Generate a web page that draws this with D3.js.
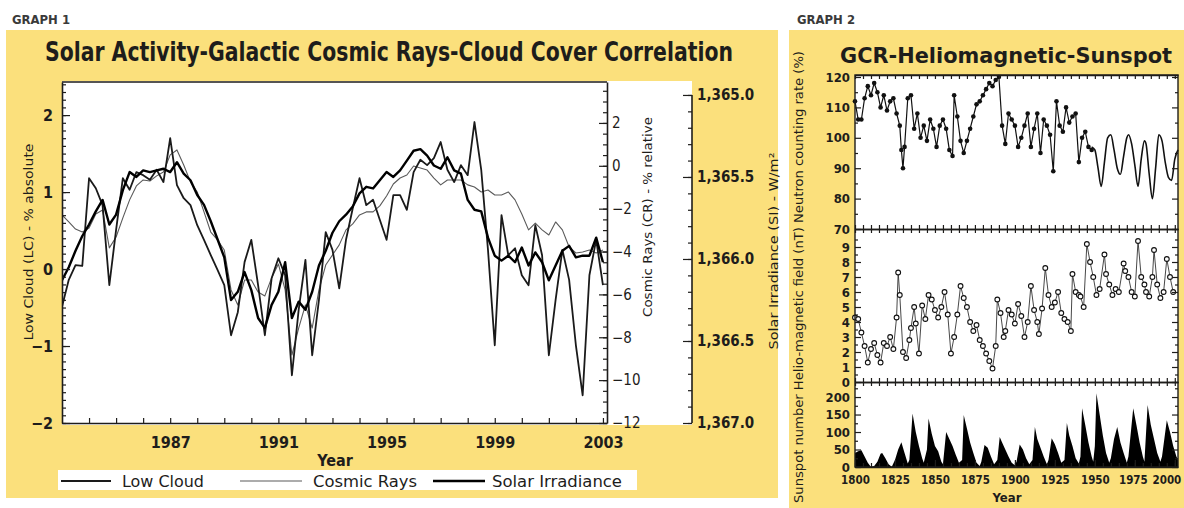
<!DOCTYPE html>
<html>
<head>
<meta charset="utf-8">
<script src="https://cdn.jsdelivr.net/npm/d3@7"></script>
<style>
html, body { margin: 0; padding: 0; background: #fff; }
svg { display: block; }
</style>
</head>
<body>
<svg id="chart" width="1184" height="508"></svg>
<script>
// ---------------- Graph 1: quarterly series, first sample at 1983.0 ----------------
const g1StartYear = 1983.0;
const g1Step = 0.25;
const lowCloud = [
  -0.49,-0.14,0.05,0.04,1.18,1.05,0.83,-0.21,0.51,1.18,
  1.03,1.26,1.22,1.16,1.29,1.13,1.70,1.09,0.92,0.83,
  0.57,0.38,0.18,-0.01,-0.21,-0.86,-0.56,0.09,0.38,-0.21,
  -0.86,-0.12,0.14,-0.08,-1.38,-0.53,0.12,-1.12,-0.40,0.48,
  0.25,-0.25,0.38,0.79,1.18,0.83,0.90,0.64,0.38,0.96,
  0.96,0.77,1.26,1.42,1.35,1.44,1.65,1.29,1.13,1.35,
  1.22,1.91,1.29,0.25,-0.99,0.70,0.18,0.27,-0.08,-0.21,
  0.57,0.18,-1.12,-0.40,0.25,-0.14,-0.99,-1.64,-0.08,0.38,
  -0.21
];
const cosmicRays = [
  -2.29,-2.62,-2.95,-3.09,-2.90,-2.25,-2.06,-3.83,-3.32,-2.43,
  -1.59,-0.94,-0.66,-0.71,-0.47,-0.29,0.51,0.74,0.04,-0.75,
  -1.22,-2.15,-3.09,-3.46,-3.93,-5.79,-6.49,-5.33,-5.33,-5.89,
  -6.07,-5.23,-4.58,-5.79,-8.83,-7.57,-6.49,-7.57,-5.79,-4.63,
  -4.16,-3.69,-2.99,-2.71,-2.29,-2.15,-2.15,-1.87,-1.41,-0.85,
  -0.57,-0.43,-0.01,-0.10,-0.20,-0.57,-0.89,-0.66,-0.66,-0.66,
  -0.89,-0.99,-1.22,-1.13,-1.36,-1.36,-1.22,-1.59,-2.25,-2.99,
  -2.67,-2.99,-3.23,-2.62,-2.99,-3.79,-4.07,-4.02,-3.93,-4.07,
  -3.93
];
const solarIrradiance = [
  1366.13,1366.05,1365.95,1365.86,1365.79,1365.71,1365.64,1365.79,1365.73,1365.58,
  1365.47,1365.50,1365.46,1365.47,1365.46,1365.45,1365.47,1365.41,1365.48,1365.52,
  1365.61,1365.67,1365.77,1365.88,1365.99,1366.25,1366.20,1366.08,1366.19,1366.36,
  1366.42,1366.28,1366.20,1366.02,1366.36,1366.26,1366.31,1366.20,1366.04,1365.95,
  1365.84,1365.77,1365.73,1365.68,1365.60,1365.56,1365.57,1365.52,1365.47,1365.50,
  1365.46,1365.40,1365.34,1365.33,1365.37,1365.43,1365.45,1365.38,1365.46,1365.48,
  1365.64,1365.70,1365.71,1365.87,1365.98,1366.01,1365.98,1366.02,1365.93,1366.04,
  1365.96,1366.02,1366.13,1366.04,1365.95,1365.92,1365.99,1365.98,1365.98,1365.87,
  1366.02
];
const g1YearLabels = [1987, 1991, 1995, 1999, 2003];
const lcTicks = [-2, -1, 0, 1, 2];
const crTicks = [-12, -10, -8, -6, -4, -2, 0, 2];
const siTicks = [1365.0, 1365.5, 1366.0, 1366.5, 1367.0];
const legendLabels = ["Low Cloud", "Cosmic Rays", "Solar Irradiance"];

// ---------------- Graph 2 ----------------
const neutronYears = [1800,1802,1804,1806,1808,1810,1812,1814,1816,1818,1820,1822,1824,1826,1828,1829,1830,1831,
  1833,1835,1837,1839,1841,1843,1845,1847,1849,1851,1853,1855,1857,1859,1861,1862,
  1864,1866,1868,1870,1872,1874,1876,1878,1880,1882,1884,1886,1888,1890,1892,1894,1896,1898,1900,1902,1904,1906,
  1908,1910,1912,1914,1916,1918,1920,1922,1924,1926,1928,1930,1932,1934,1936,1938,1940,1942,1944,1946,1948];
const neutronRate = [112,106,106,113,117,114,118,115,110,114,109,112,113,108,104,96,90,97,
  113,114,103,108,100,104,99,106,103,97,104,106,103,96,94,114,
  107,99,95,99,103,107,111,112,114,116,118,117,119,120,104,98,108,106,104,97,100,104,
  108,97,103,108,95,106,104,101,89,112,104,102,110,105,107,108,92,100,102,97,96];
const monitorYears = [1948,1950,1952,1954,1956,1958,1960,1962,1964,1966,1968,1970,1971,1973,1975,1977,1979,1981,
  1982,1984,1986,1988,1990,1992,1994,1996,1998,2000,2002];
const monitorRate = [97,96,90,84,92,100,101,96,90,88,94,100,101,98,91,84,93,99,
  98,88,80,90,101,99,92,87,86,93,96];
const fieldYears = [1800,1802,1804,1806,1808,1810,1812,1814,1816,1818,1820,1822,1824,1826,1827,1828,1830,1832,1834,1835,
  1837,1838,1840,1842,1844,1846,1848,1850,1852,1854,1856,1858,1860,1862,1864,1866,1868,1870,1872,1874,
  1876,1878,1880,1882,1884,1886,1888,1889,1891,1893,1894,1896,1898,1900,1902,1904,1906,1908,1910,1912,
  1914,1915,1917,1919,1921,1923,1925,1927,1929,1931,1933,1935,1936,1938,1940,1941,1943,1945,1947,1949,
  1951,1953,1956,1957,1959,1961,1963,1965,1968,1969,1971,1973,1975,1977,1979,1981,1982,1984,1986,1987,
  1989,1991,1993,1995,1997,1999];
const fieldValues = [4.3,4.2,3.3,2.4,1.3,2.2,2.6,1.8,1.3,2.6,2.4,3.0,2.2,4.3,7.3,5.8,2.0,1.6,2.8,3.6,
  5.0,3.9,1.9,5.1,4.2,5.8,5.5,4.8,4.3,5.0,6.0,4.5,1.9,3.0,4.5,6.4,5.6,5.0,4.0,3.4,
  3.8,2.8,2.4,1.9,1.4,0.9,2.4,5.5,4.6,3.0,3.4,4.8,4.5,3.9,5.2,4.4,3.0,4.0,6.4,4.8,
  4.0,3.2,4.9,7.6,5.8,5.0,5.3,6.0,4.6,4.2,4.0,3.4,7.2,6.0,5.8,5.7,5.0,9.2,8.0,7.0,
  5.8,6.2,8.5,7.2,6.5,5.8,6.2,6.0,7.9,7.4,7.0,6.0,5.7,9.4,7.0,6.5,6.0,5.7,7.0,8.8,
  6.5,5.6,6.0,8.2,7.0,6.0];
const sunspotYears = [1800,1802,1804,1806,1808,1810,1812,1814,1816,1817,1819,1821,1823,1825,1827,1829,1831,1833,1834,1836,
  1838,1840,1842,1843,1845,1846,1848,1850,1852,1854,1855,1857,1859,1861,1863,1865,1867,1868,1870,1872,
  1874,1876,1878,1879,1881,1883,1885,1887,1889,1890.5,1892,1894,1896,1898,1900,1901,1903,1905,1907,1909,
  1911,1912.5,1914,1916,1918,1920,1921,1923,1925,1927,1929,1931,1932.5,1934,1936,1938,1940,1941,1942,1944,
  1946,1948,1949,1950,1951,1953,1955,1957,1959,1960,1962,1964,1966,1968,1970,1971,1974,1976,1978,1980,
  1981,1983,1985,1987,1989,1991,1992,1995,1997,1999,2001,2002];
const sunspotValues = [40,45,48,30,12,0,3,15,38,40,25,8,1,20,50,71,40,10,20,153,
  100,60,25,12,50,139,95,60,45,15,8,100,80,60,35,12,20,149,110,70,
  40,12,3,15,63,55,30,8,20,86,70,50,30,12,5,15,64,50,25,8,
  20,114,80,55,30,8,20,82,65,40,12,20,126,90,60,25,10,30,168,120,
  70,30,15,60,211,150,90,40,12,25,80,114,70,40,12,30,168,120,70,30,
  15,177,120,80,40,15,30,134,100,60,30,20];
const g2YearTicks = [1800,1825,1850,1875,1900,1925,1950,1975,2000];
const neutronTicks = [70,80,90,100,110,120];
const fieldTicks = [0,1,2,3,4,5,6,7,8,9];
const sunspotTicks = [0,50,100,150,200];

// ---------------- drawing ----------------
const W = 1184, H = 508;
const FONT = "'DejaVu Sans Condensed','Liberation Sans Narrow',Arial,sans-serif";
const INK = "#1e1d1b";
const PANEL = "#fbe07c";
const svg = d3.select("#chart");

svg.append("rect").attr("width", W).attr("height", H).attr("fill", "#fff");

function label(x, y, str, opts = {}) {
  const t = svg.append("text")
    .attr("x", x).attr("y", y)
    .attr("font-family", FONT)
    .attr("font-size", opts.size || 14)
    .attr("font-weight", opts.weight || "bold")
    .attr("fill", opts.fill || INK)
    .attr("text-anchor", opts.anchor || "start")
    .text(str);
  if (opts.len) t.attr("textLength", opts.len).attr("lengthAdjust", "spacingAndGlyphs");
  return t;
}
function vlabel(x, y, str, opts = {}) {
  const t = svg.append("text")
    .attr("transform", `translate(${x},${y}) rotate(-90)`)
    .attr("font-family", FONT)
    .attr("font-size", opts.size || 13)
    .attr("font-weight", opts.weight || "normal")
    .attr("fill", INK)
    .attr("text-anchor", "middle")
    .attr("dominant-baseline", "central")
    .text(str);
  if (opts.len) t.attr("textLength", opts.len).attr("lengthAdjust", "spacingAndGlyphs");
  return t;
}
function styleAxis(g, size, weight, keepDomain) {
  g.attr("font-family", FONT).attr("font-size", size).attr("font-weight", weight);
  g.selectAll("path.domain").attr("stroke", keepDomain ? INK : "none").attr("stroke-width", 1.6);
  g.selectAll(".tick line").attr("stroke", INK).attr("stroke-width", 1.2);
  g.selectAll(".tick text").attr("fill", INK);
  return g;
}

// Yellow panels
svg.append("rect").attr("x", 6).attr("y", 30).attr("width", 772).attr("height", 468).attr("fill", PANEL);
svg.append("rect").attr("x", 789).attr("y", 30).attr("width", 395).attr("height", 478).attr("fill", PANEL);

label(12, 24, "GRAPH 1", { size: 12, fill: "#3a3a3a", len: 58 });
label(797, 24, "GRAPH 2", { size: 12, fill: "#3a3a3a", len: 58 });

// ===== Graph 1 =====
const p1 = { left: 62, right: 607, top: 82, bottom: 423 };
label(389, 61, "Solar Activity-Galactic Cosmic Rays-Cloud Cover Correlation",
  { size: 26, anchor: "middle", len: 688 });

svg.append("rect").attr("x", p1.left).attr("y", p1.top - 1)
  .attr("width", 692 - p1.left).attr("height", 425 - p1.top + 1).attr("fill", "#fff");

const x1 = d3.scaleLinear().domain([1983.0, 2003.15]).range([p1.left, p1.right]);
const yLC = d3.scaleLinear().domain([-2, 2.43]).range([p1.bottom, p1.top]);
const yCR = d3.scaleLinear().domain([-12, 3.91]).range([p1.bottom, p1.top]);
const ySI = d3.scaleLinear().domain([1364.921, 1367.0]).range([p1.top, p1.bottom]);

const g1 = svg.append("g");
g1.append("clipPath").attr("id", "clip1").append("rect")
  .attr("x", p1.left).attr("y", p1.top).attr("width", p1.right - p1.left).attr("height", p1.bottom - p1.top);

const yearOf = i => g1StartYear + i * g1Step;
const seriesLine = (scale) => d3.line().x((d, i) => x1(yearOf(i))).y(d => scale(d));
const plot1 = g1.append("g").attr("clip-path", "url(#clip1)");
plot1.append("path").datum(cosmicRays).attr("d", seriesLine(yCR))
  .attr("fill", "none").attr("stroke", "#5a5a5a").attr("stroke-width", 1.1).attr("stroke-linejoin", "round");
plot1.append("path").datum(lowCloud).attr("d", seriesLine(yLC))
  .attr("fill", "none").attr("stroke", "#1a1a1a").attr("stroke-width", 1.8).attr("stroke-linejoin", "round");
plot1.append("path").datum(solarIrradiance).attr("d", seriesLine(ySI))
  .attr("fill", "none").attr("stroke", "#000").attr("stroke-width", 2.4).attr("stroke-linejoin", "round");

// frame top
g1.append("line").attr("x1", p1.left).attr("x2", p1.right).attr("y1", p1.top).attr("y2", p1.top)
  .attr("stroke", INK).attr("stroke-width", 1.6);

// x axis
styleAxis(g1.append("g").attr("transform", `translate(0,${p1.bottom})`)
  .call(d3.axisBottom(x1).tickValues(d3.range(1984, 2004)).tickSizeInner(-5).tickSizeOuter(0).tickFormat("")), 14, "bold", true);
styleAxis(g1.append("g").attr("transform", `translate(0,${p1.bottom})`)
  .call(d3.axisBottom(x1).tickValues(g1YearLabels).tickSizeInner(0).tickSizeOuter(0).tickPadding(14).tickFormat(d3.format("d"))), 16, "bold", false);
label(335, 466, "Year", { size: 16, anchor: "middle" });

// LC axis (left)
styleAxis(g1.append("g").attr("transform", `translate(${p1.left},0)`)
  .call(d3.axisLeft(yLC).tickValues(d3.range(-2, 2.41, 0.1)).tickSizeInner(-4).tickSizeOuter(0).tickFormat("")), 14, "bold", true);
styleAxis(g1.append("g").attr("transform", `translate(${p1.left},0)`)
  .call(d3.axisLeft(yLC).tickValues(lcTicks).tickSizeInner(-8).tickSizeOuter(0).tickPadding(9).tickFormat(d3.format("d"))), 16, "bold", false);
vlabel(28, 242, "Low Cloud (LC) - % absolute", { size: 13, len: 197 });

// CR axis (right of plot)
styleAxis(g1.append("g").attr("transform", `translate(${p1.right},0)`)
  .call(d3.axisRight(yCR).tickValues(d3.range(-12, 3.6, 0.5)).tickSizeInner(-4).tickSizeOuter(0).tickFormat("")), 14, "normal", true);
styleAxis(g1.append("g").attr("transform", `translate(${p1.right},0)`)
  .call(d3.axisRight(yCR).tickValues(crTicks).tickSizeInner(-8).tickSizeOuter(0).tickPadding(5).tickFormat(d3.format("d"))), 15, "normal", false);
vlabel(647, 217, "Cosmic Rays (CR) - % relative", { size: 13, len: 200 });

// SI axis (outer right, inverted)
const siX = 692;
styleAxis(g1.append("g").attr("transform", `translate(${siX},0)`)
  .call(d3.axisRight(ySI).tickValues(d3.range(1365.0, 1367.01, 0.1)).tickSizeInner(-4).tickSizeOuter(0).tickFormat("")), 14, "bold", false);
g1.append("line").attr("x1", siX).attr("x2", siX).attr("y1", ySI(1365.0)).attr("y2", ySI(1367.0))
  .attr("stroke", INK).attr("stroke-width", 1.6);
styleAxis(g1.append("g").attr("transform", `translate(${siX},0)`)
  .call(d3.axisRight(ySI).tickValues(siTicks).tickSizeInner(-9).tickSizeOuter(0).tickPadding(5).tickFormat(d3.format(",.1f"))), 15, "bold", false);
vlabel(773, 251, "Solar Irradiance (SI) - W/m²", { size: 13, len: 197 });

// legend
svg.append("rect").attr("x", 58).attr("y", 470).attr("width", 579).attr("height", 20).attr("fill", "#fff");
const legendItems = [
  { x1: 61, x2: 111, w: 1.8, c: "#1a1a1a", tx: 122, len: 82 },
  { x1: 240, x2: 302, w: 1.1, c: "#5a5a5a", tx: 313, len: 104 },
  { x1: 433, x2: 485, w: 2.6, c: "#000", tx: 492, len: 130 }
];
legendItems.forEach((it, i) => {
  svg.append("line").attr("x1", it.x1).attr("x2", it.x2).attr("y1", 481).attr("y2", 481)
    .attr("stroke", it.c).attr("stroke-width", it.w);
  label(it.tx, 487, legendLabels[i], { size: 16, weight: "normal", len: it.len });
});

// ===== Graph 2 =====
const p2 = { left: 855, right: 1178, top: 75, mid1: 229, mid2: 382, bottom: 467 };
label(1006, 63, "GCR-Heliomagnetic-Sunspot", { size: 22, anchor: "middle", len: 332 });
svg.append("rect").attr("x", p2.left).attr("y", p2.top).attr("width", p2.right - p2.left)
  .attr("height", p2.bottom - p2.top).attr("fill", "#fff");

const x2 = d3.scaleLinear().domain([1800, 2002]).range([p2.left, p2.right]);
const yN = d3.scaleLinear().domain([70, 120.66]).range([p2.mid1, p2.top]);
const yF = d3.scaleLinear().domain([0, 10.2]).range([p2.mid2, p2.mid1]);
const yS = d3.scaleLinear().domain([0, 243]).range([p2.bottom, p2.mid2]);

const g2 = svg.append("g");

// sunspot area
const spots = sunspotYears.map((y, i) => ({ y, v: sunspotValues[i] }));
g2.append("path").datum(spots)
  .attr("d", d3.area().x(d => x2(d.y)).y0(yS(0)).y1(d => yS(d.v)))
  .attr("fill", "#000");

// neutron rate: dotted record and continuous monitor record
const neutron = neutronYears.map((y, i) => ({ y, v: neutronRate[i] }));
const monitor = monitorYears.map((y, i) => ({ y, v: monitorRate[i] }));
g2.append("path").datum(neutron)
  .attr("d", d3.line().x(d => x2(d.y)).y(d => yN(d.v)))
  .attr("fill", "none").attr("stroke", "#111").attr("stroke-width", 1.2);
g2.selectAll("circle.n").data(neutron).join("circle").attr("class", "n")
  .attr("cx", d => x2(d.y)).attr("cy", d => yN(d.v)).attr("r", 2.3).attr("fill", "#111");
g2.append("path").datum(monitor)
  .attr("d", d3.line().curve(d3.curveMonotoneX).x(d => x2(d.y)).y(d => yN(d.v)))
  .attr("fill", "none").attr("stroke", "#111").attr("stroke-width", 1.6);

// heliomagnetic field
const field = fieldYears.map((y, i) => ({ y, v: fieldValues[i] }));
g2.append("path").datum(field)
  .attr("d", d3.line().x(d => x2(d.y)).y(d => yF(d.v)))
  .attr("fill", "none").attr("stroke", "#333").attr("stroke-width", 0.9);
g2.selectAll("circle.f").data(field).join("circle").attr("class", "f")
  .attr("cx", d => x2(d.y)).attr("cy", d => yF(d.v)).attr("r", 2.4)
  .attr("fill", "#fff").attr("stroke", "#111").attr("stroke-width", 1.1);

// frame and panel dividers with year ticks
[p2.top, p2.mid1, p2.mid2, p2.bottom].forEach((yy, k) => {
  const dirs = k === 0 ? ["down"] : k === 3 ? ["up"] : ["up", "down"];
  dirs.forEach(dir => {
    const ax = dir === "down" ? d3.axisTop(x2) : d3.axisBottom(x2);
    styleAxis(g2.append("g").attr("transform", `translate(0,${yy})`)
      .call(ax.tickValues(d3.range(1800, 2001, 5)).tickSizeInner(-4).tickSizeOuter(0).tickFormat("")),
      12, "bold", true);
  });
});
g2.append("rect").attr("x", p2.left).attr("y", p2.top).attr("width", p2.right - p2.left)
  .attr("height", p2.bottom - p2.top).attr("fill", "none").attr("stroke", INK).attr("stroke-width", 1.4);

// year labels
const xLab = styleAxis(g2.append("g").attr("transform", `translate(0,${p2.bottom})`)
  .call(d3.axisBottom(x2).tickValues(g2YearTicks).tickSizeInner(-7).tickSizeOuter(0).tickPadding(9).tickFormat(d3.format("d"))), 11.5, "bold", false);
xLab.selectAll(".tick text").filter(d => d === 2000).attr("text-anchor", "end").attr("dx", 6);
xLab.selectAll(".tick text").filter(d => d === 1975).attr("dx", -2);
label(1007, 502, "Year", { size: 13, anchor: "middle" });

// y axes for the three panels, left labelled and right mirrored
const panels = [
  { s: yN, major: neutronTicks, minor: d3.range(75, 120, 10) },
  { s: yF, major: fieldTicks, minor: d3.range(0.5, 10, 1) },
  { s: yS, major: sunspotTicks, minor: d3.range(25, 226, 50) }
];
panels.forEach(p => {
  styleAxis(g2.append("g").attr("transform", `translate(${p2.left},0)`)
    .call(d3.axisLeft(p.s).tickValues(p.major).tickSizeInner(-6).tickSizeOuter(0).tickPadding(5).tickFormat(d3.format("d"))), 13, "bold", false);
  styleAxis(g2.append("g").attr("transform", `translate(${p2.left},0)`)
    .call(d3.axisLeft(p.s).tickValues(p.minor).tickSizeInner(-3).tickSizeOuter(0).tickFormat("")), 13, "bold", false);
  styleAxis(g2.append("g").attr("transform", `translate(${p2.right},0)`)
    .call(d3.axisRight(p.s).tickValues(p.major).tickSizeInner(-6).tickSizeOuter(0).tickFormat("")), 13, "bold", false);
  styleAxis(g2.append("g").attr("transform", `translate(${p2.right},0)`)
    .call(d3.axisRight(p.s).tickValues(p.minor).tickSizeInner(-3).tickSizeOuter(0).tickFormat("")), 13, "bold", false);
});
vlabel(799, 277, "Sunspot number  Helio-magnetic field (nT)  Neutron counting rate (%)", { size: 12, len: 452 });
</script>
</body>
</html>
